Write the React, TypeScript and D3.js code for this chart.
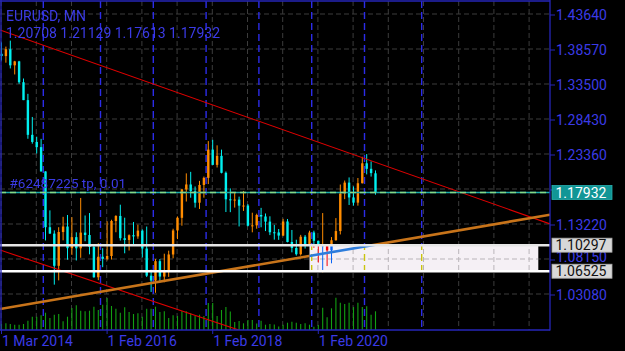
import React, { useEffect } from "react";
import * as d3 from "d3";

// ---- data (monthly bars, index 0 = Mar 2014, last = Mar 2021; broker feed has 13 bars in 2015) ----
const barLabels = [
  "2014-03","2014-04","2014-05","2014-06","2014-07","2014-08","2014-09","2014-10","2014-11","2014-12",
  "2015-01","2015-02","2015-03","2015-04","2015-04b","2015-05","2015-06","2015-07","2015-08","2015-09","2015-10","2015-11","2015-12",
  "2016-01","2016-02","2016-03","2016-04","2016-05","2016-06","2016-07","2016-08","2016-09","2016-10","2016-11","2016-12",
  "2017-01","2017-02","2017-03","2017-04","2017-05","2017-06","2017-07","2017-08","2017-09","2017-10","2017-11","2017-12",
  "2018-01","2018-02","2018-03","2018-04","2018-05","2018-06","2018-07","2018-08","2018-09","2018-10","2018-11","2018-12",
  "2019-01","2019-02","2019-03","2019-04","2019-05","2019-06","2019-07","2019-08","2019-09","2019-10","2019-11","2019-12",
  "2020-01","2020-02","2020-03","2020-04","2020-05","2020-06","2020-07","2020-08","2020-09","2020-10","2020-11","2020-12",
  "2021-01","2021-02","2021-03",
];
const opens = [
  1.3802,1.3769,1.3868,1.3635,1.3692,1.3390,1.3131,1.2628,1.2525,1.2450,
  1.2098,1.1290,1.1197,1.0731,1.1220,1.1300,1.0986,1.1146,1.0985,1.1212,1.1177,1.1004,1.0565,
  1.0862,1.0832,1.0873,1.1380,1.1453,1.1131,1.1105,1.1174,1.1157,1.1241,1.0981,1.0588,
  1.0517,1.0798,1.0575,1.0652,1.0895,1.1243,1.1426,1.1837,1.1909,1.1813,1.1645,1.1902,
  1.2005,1.2414,1.2193,1.2324,1.2078,1.1694,1.1684,1.1690,1.1602,1.1604,1.1312,1.1317,
  1.1467,1.1445,1.1371,1.1217,1.1214,1.1169,1.1373,1.1076,1.0989,1.0899,1.1152,1.1018,
  1.1213,1.1093,1.1026,1.1029,1.0954,1.1101,1.1234,1.1778,1.1936,1.1721,1.1646,1.1927,
  1.2216,1.2136,1.20708,
];
const highs = [
  1.3967,1.3906,1.3993,1.3700,1.3700,1.3444,1.3222,1.2887,1.2601,1.2570,
  1.2100,1.1534,1.1244,1.1290,1.1440,1.1467,1.1436,1.1216,1.1714,1.1460,1.1495,1.1043,1.1059,
  1.0985,1.1376,1.1398,1.1464,1.1616,1.1428,1.1186,1.1366,1.1327,1.1258,1.1300,1.0675,
  1.0829,1.0828,1.0906,1.0950,1.1268,1.1446,1.1846,1.2070,1.2092,1.1880,1.1961,1.2023,
  1.2537,1.2556,1.2476,1.2414,1.2097,1.1852,1.1791,1.1733,1.1815,1.1625,1.1500,1.1486,
  1.1570,1.1489,1.1448,1.1324,1.1264,1.1412,1.1409,1.1250,1.1109,1.1179,1.1176,1.1239,
  1.1239,1.1096,1.1495,1.1039,1.1147,1.1422,1.1908,1.1966,1.2011,1.1881,1.2003,1.2310,
  1.2350,1.2243,1.21129,
];
const lows = [
  1.3704,1.3673,1.3590,1.3503,1.3367,1.3131,1.2571,1.2500,1.2358,1.2098,
  1.1098,1.1195,1.0458,1.0520,1.1100,1.0819,1.0889,1.0808,1.0847,1.1087,1.0897,1.0558,1.0523,
  1.0711,1.0809,1.0822,1.1217,1.1097,1.0912,1.0952,1.1046,1.1122,1.0852,1.0568,1.0352,
  1.0340,1.0494,1.0493,1.0570,1.0839,1.1118,1.1312,1.1662,1.1717,1.1574,1.1554,1.1718,
  1.1915,1.2195,1.2155,1.2070,1.1510,1.1508,1.1574,1.1301,1.1526,1.1302,1.1216,1.1268,
  1.1289,1.1234,1.1176,1.1110,1.1107,1.1160,1.1071,1.0926,1.0879,1.0879,1.0981,1.0981,
  1.0992,1.0778,1.0636,1.0727,1.0767,1.1096,1.1185,1.1696,1.1612,1.1603,1.1602,1.1924,
  1.2055,1.2023,1.17613,
];
const closes = [
  1.3769,1.3868,1.3635,1.3692,1.3390,1.3131,1.2628,1.2525,1.2450,1.2098,
  1.1290,1.1197,1.0731,1.1220,1.1300,1.0986,1.1146,1.0985,1.1212,1.1177,1.1004,1.0565,1.0862,
  1.0832,1.0873,1.1380,1.1453,1.1131,1.1105,1.1174,1.1157,1.1241,1.0981,1.0588,1.0517,
  1.0798,1.0575,1.0652,1.0895,1.1243,1.1426,1.1837,1.1909,1.1813,1.1645,1.1902,1.2005,
  1.2414,1.2193,1.2324,1.2078,1.1694,1.1684,1.1690,1.1602,1.1604,1.1312,1.1317,1.1467,
  1.1445,1.1371,1.1217,1.1214,1.1169,1.1373,1.1076,1.0989,1.0899,1.1152,1.1018,1.1213,
  1.1093,1.1026,1.1029,1.0954,1.1101,1.1234,1.1778,1.1936,1.1721,1.1646,1.1927,1.2216,
  1.2136,1.2074,1.17932,
];
const tickVolumes = [
  60,67,60,53,53,60,93,133,133,147,
  173,120,153,160,87,133,220,247,193,187,193,233,200,
  253,320,240,213,173,227,180,160,167,133,213,213,
  233,180,187,120,147,140,187,187,167,140,153,140,
  270,270,140,200,230,185,80,90,67,100,100,65,
  93,53,60,55,35,53,73,83,73,60,67,53,
  33,50,223,127,217,323,273,260,273,230,273,230,
  237,153,187,
];

const priceTicks = [1.4364, 1.3857, 1.335, 1.2843, 1.2336, 1.1829, 1.1322, 1.0815, 1.0308];
const dateLabelIdx = [0, 24, 48, 72];
const dateLabelText = ["1 Mar 2014", "1 Feb 2016", "1 Feb 2018", "1 Feb 2020"];
const separatorIdx = [10, 23, 35, 47, 59, 71, 83, 96];
const gridIdx = d3.range(0, 125, 8);

const symbolTitle = "EURUSD, MN";
const headerOHLC = ["1.20708", "1.21129", "1.17613", "1.17932"];
const bidPrice = 1.17932;
const orderText = "#62487225 tp, 0.01";
const levelPrices = [1.10297, 1.06525];
const boxIdx = [70, 122];
const boxPrices = [1.10297, 1.06525];
const redUpper = [[0, 1.41395], [100, 1.18926]];
const redLower = [[0, 1.09524], [50, 0.98847]];
const orangeLine = [[0, 1.01088], [100, 1.12016]];

const BLUE = "#3b3be6";
const BORDER = "#2626b8";
const FONT = "Roboto, 'Noto Sans', sans-serif";

export default function App() {
  useEffect(() => {
    document.body.style.margin = "0";
    document.body.style.background = "#000";
  }, []);

  const W = 625, H = 351;
  const plotL = 0, plotR = 550, plotT = 1, plotB = 330;
  const x = d3.scaleLinear().domain([0, 85]).range([1.5, 375.5]);
  const y = d3.scaleLinear().domain([1.4364, 1.0308]).range([15, 295]);
  const vy = d3.scaleLinear().domain([0, 400]).range([plotB, plotB - 40]);

  const trendPath = (pts: number[][]) => {
    const [[i1, p1], [i2, p2]] = pts;
    const f = (i: number) => p1 + ((i - i1) * (p2 - p1)) / (i2 - i1);
    const a = x.invert(plotL), b = x.invert(plotR);
    return d3.line<number>().x((i) => x(i)).y((i) => y(f(i)))([a, b]) || "";
  };

  const bars = opens.map((o, i) => ({ i, o, h: highs[i], l: lows[i], c: closes[i] }));
  const boxedPrices = [bidPrice, ...levelPrices];
  const LBL_H = 14;
  // axis labels fully hidden behind a price box are not drawn; partly covered ones are nudged up
  const visibleTicks = priceTicks
    .filter((p) => boxedPrices.every((q) => Math.abs(y(p) - y(q)) > 8))
    .map((p) => {
      const below = boxedPrices.find((q) => y(q) - y(p) > 0 && y(q) - y(p) < LBL_H);
      return { p, cy: below !== undefined ? y(below) - LBL_H : y(p) };
    });

  return (
    <svg width={W} height={H} style={{ position: "absolute", left: 0, top: 0, display: "block" }} fontFamily={FONT}>
      <defs>
        <clipPath id="plot">
          <rect x={plotL} y={plotT} width={plotR - plotL} height={plotB - plotT} />
        </clipPath>
      </defs>
      <rect x={0} y={0} width={W} height={H} fill="#000" />
      <g clipPath="url(#plot)">
        {priceTicks.map((p) => (
          <line key={"hg" + p} x1={plotL} x2={plotR} y1={y(p) - 1} y2={y(p) - 1} stroke="#3c3c3c" strokeWidth={1} strokeDasharray="5,3" />
        ))}
        {gridIdx.map((i) => (
          <line key={"vg" + i} x1={x(i) - 0.4} x2={x(i) - 0.4} y1={plotT} y2={plotB} stroke="#3c3c3c" strokeWidth={1} strokeDasharray="5,3" />
        ))}
        {separatorIdx.map((i) => (
          <line key={"sp" + i} x1={x(i - 0.5)} x2={x(i - 0.5)} y1={plotT} y2={plotB} stroke="#2c2ce8" strokeWidth={1.4} strokeDasharray="7,4" />
        ))}
        {tickVolumes.map((v, i) => (
          <line key={"v" + i} x1={x(i)} x2={x(i)} y1={plotB} y2={vy(v)} stroke="#12a012" strokeWidth={1.1} />
        ))}
        {bars.map((b) => {
          const col = b.c >= b.o ? "#ff8c00" : "#00f0f0";
          const top = y(Math.max(b.o, b.c));
          const bot = y(Math.min(b.o, b.c));
          return (
            <g key={"c" + b.i}>
              <line x1={x(b.i)} x2={x(b.i)} y1={y(b.h)} y2={y(b.l)} stroke={col} strokeWidth={1} />
              <rect x={x(b.i) - 1.2} y={top} width={2.4} height={Math.max(1, bot - top)} fill={col} />
            </g>
          );
        })}
        <path d={trendPath(redUpper)} stroke="#e00000" strokeWidth={1.1} fill="none" />
        <path d={trendPath(redLower)} stroke="#e00000" strokeWidth={1.1} fill="none" />
        <path d={trendPath(orangeLine)} stroke="#c8741a" strokeWidth={2.6} fill="none" />
        <rect
          x={x(boxIdx[0])}
          y={y(boxPrices[0])}
          width={x(boxIdx[1]) - x(boxIdx[0])}
          height={y(boxPrices[1]) - y(boxPrices[0])}
          fill="#f5f0f5"
          style={{ mixBlendMode: "difference" }}
        />
        {levelPrices.map((p, k) => (
          <line key={"lv" + p} x1={plotL} x2={plotR} y1={y(p)} y2={y(p)} stroke={k === 0 ? "#e6e6e6" : "#ffffff"} strokeWidth={2.4} />
        ))}
        <line x1={plotL} x2={plotR} y1={y(bidPrice)} y2={y(bidPrice)} stroke="#18a8a8" strokeWidth={1.4} />
        <line x1={plotL} x2={plotR} y1={y(bidPrice)} y2={y(bidPrice)} stroke="#86d886" strokeWidth={1.4} strokeDasharray="6,4" />
        <text x={9.5} y={y(bidPrice) - 4.5} fontSize={13.5} fill={BLUE}>{orderText}</text>
        <text x={6} y={21} fontSize={14} fill={BLUE}>{symbolTitle}</text>
        <text x={6} y={38} fontSize={14} fill={BLUE}>{headerOHLC.join(" ")}</text>
      </g>
      <line x1={0} x2={plotR} y1={1} y2={1} stroke={BORDER} strokeWidth={1.3} />
      <line x1={1} x2={1} y1={0} y2={plotB} stroke={BORDER} strokeWidth={1.3} />
      <line x1={plotR} x2={plotR} y1={0} y2={plotB + 0.6} stroke={BORDER} strokeWidth={1.3} />
      <line x1={0} x2={plotR} y1={plotB} y2={plotB} stroke={BORDER} strokeWidth={1.3} />
      {priceTicks.map((p) => (
        <line key={"ptk" + p} x1={plotR} x2={plotR + 5} y1={y(p)} y2={y(p)} stroke={BORDER} strokeWidth={1} />
      ))}
      {visibleTicks.map((t) => (
        <text key={"pt" + t.p} x={556} y={t.cy} dy="0.36em" fontSize={14} fill={BLUE}>{t.p.toFixed(5)}</text>
      ))}
      <rect x={552} y={y(bidPrice) - 7} width={60} height={14} fill="#119696" stroke="#2ab0b0" strokeWidth={0.8} />
      <text x={555.5} y={y(bidPrice)} dy="0.36em" fontSize={14} fill="#ffffff">{bidPrice.toFixed(5)}</text>
      {levelPrices.map((p) => (
        <g key={"pl" + p}>
          <rect x={552} y={y(p) - 7} width={60} height={14} fill="#d8d8d8" stroke="#a8a8a8" strokeWidth={0.8} />
          <text x={555.5} y={y(p)} dy="0.36em" fontSize={14} fill="#111">{p.toFixed(5)}</text>
        </g>
      ))}
      {dateLabelIdx.map((i, k) => (
        <g key={"dl" + i}>
          <line x1={x(i)} x2={x(i)} y1={plotB} y2={plotB + 4} stroke={BORDER} strokeWidth={1} />
          <text x={x(i) + 0.5} y={346} fontSize={14} fill={BLUE}>{dateLabelText[k]}</text>
        </g>
      ))}
    </svg>
  );
}
